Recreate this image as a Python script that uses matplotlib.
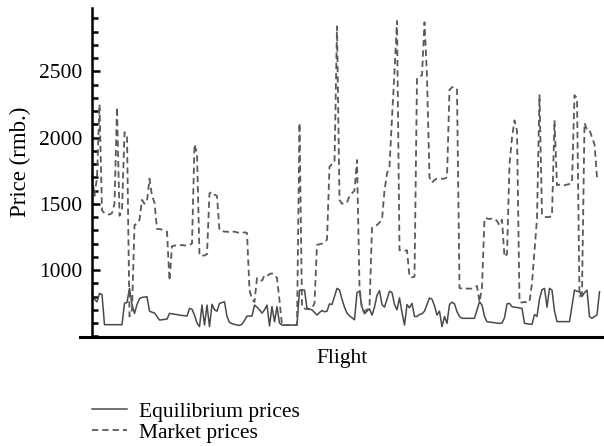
import numpy as np
import matplotlib
matplotlib.use("Agg")
import matplotlib.pyplot as plt
from matplotlib.ticker import MultipleLocator

plt.rcParams['font.family'] = ['Liberation Serif', 'DejaVu Serif']

# equilibrium prices per flight
equilibrium = [
    824, 780, 760, 824, 815, 588, 588, 588, 588, 588,
    588, 588, 588, 750, 755, 862, 740, 673, 740, 785,
    794, 796, 799, 690, 682, 676, 650, 623, 625, 628,
    630, 673, 670, 667, 664, 660, 658, 656, 653, 711,
    705, 660, 600, 573, 736, 585, 736, 573, 742, 700,
    690, 749, 755, 761, 650, 605, 596, 590, 586, 582,
    592, 620, 653, 653, 653, 736, 720, 700, 675, 700,
    736, 578, 724, 610, 724, 600, 585, 585, 585, 585,
    585, 585, 585, 849, 849, 849, 711, 705, 700, 680,
    661, 680, 695, 685, 690, 745, 740, 800, 862, 850,
    780, 720, 675, 655, 640, 625, 830, 840, 720, 670,
    690, 708, 660, 720, 810, 845, 740, 720, 780, 840,
    830, 740, 700, 790, 680, 585, 740, 715, 749, 650,
    650, 665, 670, 690, 740, 790, 780, 730, 661, 690,
    573, 650, 598, 740, 758, 745, 686, 650, 636, 636,
    636, 636, 636, 636, 700, 761, 736, 650, 610, 608,
    605, 603, 600, 598, 600, 640, 745, 749, 724, 720,
    718, 714, 711, 598, 595, 592, 590, 665, 650, 780,
    852, 862, 720, 862, 849, 690, 611, 611, 611, 611,
    611, 611, 730, 849, 840, 838, 800, 830, 849, 648,
    636, 650, 661, 837,
]

# market prices per flight
market = [
    1720, 1560, 1700, 2250, 1450, 1430, 1420, 1420, 1430, 1500,
    2230, 1410, 1450, 2040, 2020, 650, 700, 1340, 1350, 1380,
    1530, 1500, 1520, 1690, 1560, 1510, 1310, 1310, 1305, 1300,
    1290, 920, 1180, 1185, 1185, 1185, 1190, 1185, 1190, 1190,
    1200, 1950, 1880, 1110, 1110, 1110, 1120, 1580, 1590, 1570,
    1560, 1300, 1295, 1290, 1290, 1285, 1290, 1290, 1285, 1280,
    1280, 1285, 1280, 850, 780, 760, 940, 930, 920, 960,
    955, 970, 975, 965, 940, 770, 585, 585, 585, 585,
    585, 585, 585, 2110, 720, 710, 705, 705, 710, 750,
    1190, 1195, 1200, 1210, 1230, 1780, 1800, 1810, 2840, 1530,
    1500, 1510, 1510, 1560, 1580, 1600, 1830, 870, 700, 690,
    700, 720, 1320, 1330, 1340, 1360, 1380, 1600, 1730, 1780,
    2150, 2500, 2880, 1150, 1150, 1145, 1150, 950, 945, 950,
    2450, 2460, 2470, 2870, 2460, 1700, 1660, 1680, 1690, 1690,
    1690, 1690, 1700, 2360, 2380, 2380, 2370, 865, 860, 865,
    860, 860, 860, 870, 880, 760, 870, 1390, 1390, 1385,
    1390, 1390, 1370, 1340, 1380, 1100, 1120, 1800, 2000, 2130,
    2050, 760, 755, 760, 755, 760, 900, 1150, 1390, 2320,
    1420, 1400, 1400, 1400, 1410, 2130, 1640, 1645, 1640, 1640,
    1645, 1650, 1660, 2320, 2300, 800, 820, 2110, 2060, 2060,
    2000, 1950, 1700, 1680,
]

flights = np.arange(len(market))

fig = plt.figure(figsize=(6.04, 4.46), dpi=100)
ax = fig.add_axes([80 / 604, 109 / 446, 524 / 604, 329 / 446])

eq_line, = ax.plot(flights, equilibrium, color='#4a4a4a', lw=1.1,
                   label='Equilibrium prices')
mk_line, = ax.plot(flights, market, color='#5a5a5a', lw=1.3,
                   ls=(0, (3.5, 2.2)), label='Market prices')

ax.set_xlim(-4.8, 204.8)
ax.set_ylim(495, 2978)

for s in ['top', 'right']:
    ax.spines[s].set_visible(False)
ax.spines['left'].set_position(('data', 0))
ax.spines['left'].set_linewidth(1.8)
ax.spines['bottom'].set_linewidth(2.2)

ax.set_xticks([])
ax.yaxis.set_major_locator(MultipleLocator(500))
ax.yaxis.set_minor_locator(MultipleLocator(100))
ax.set_yticks([1000, 1500, 2000, 2500])
ax.tick_params(axis='y', which='major', direction='in', length=6, width=1.8,
               labelsize=15.5, pad=7)
ax.tick_params(axis='y', which='minor', direction='in', length=4, width=1.8)

ax.set_ylabel('Price (rmb.)', fontsize=16.5)
ax.yaxis.set_label_coords(-0.093, 0.532)
ax.set_xlabel('Flight', fontsize=15.5, labelpad=9)

fig.legend(handles=[eq_line, mk_line], loc='upper left',
           bbox_to_anchor=(83 / 604, 1 - 393 / 446), frameon=False,
           fontsize=15.5, handlelength=1.65, handletextpad=0.55,
           labelspacing=0.05, borderaxespad=0)

fig.savefig('out.png', dpi=100)
